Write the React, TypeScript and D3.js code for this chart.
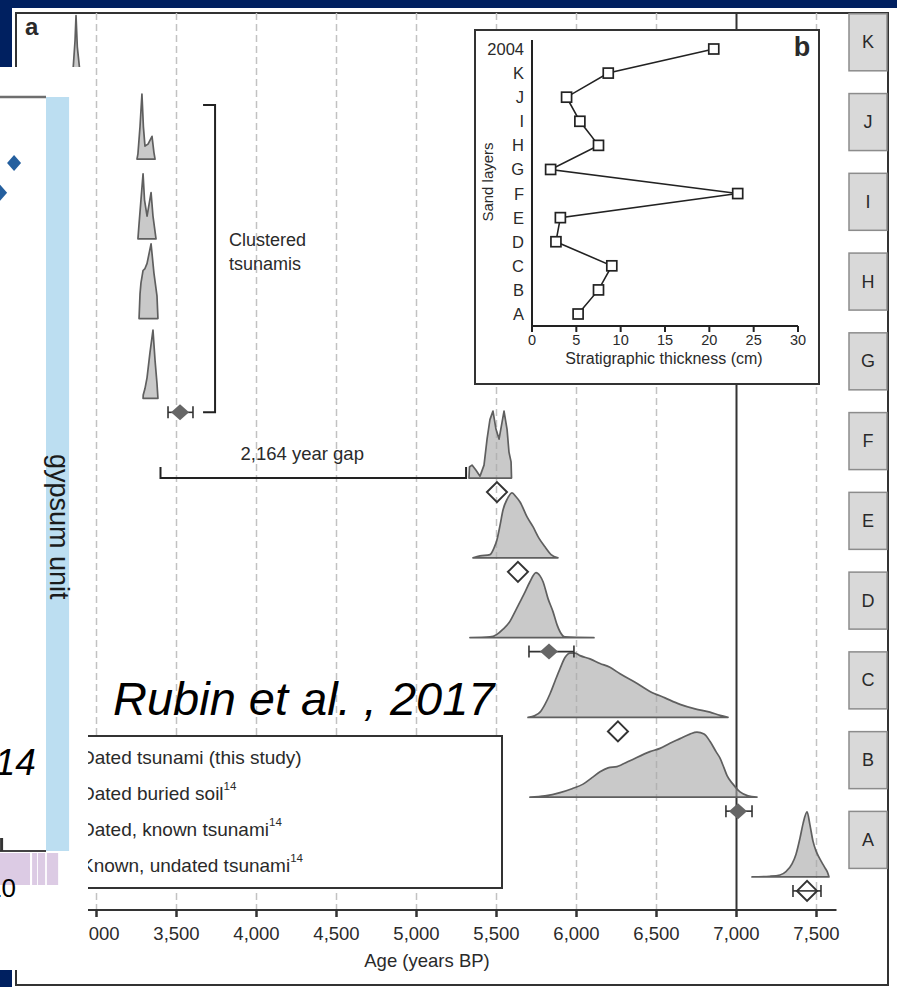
import React from 'react';
import * as d3 from 'd3';

// ---------------- data ----------------
const layers = ['K', 'J', 'I', 'H', 'G', 'F', 'E', 'D', 'C', 'B', 'A'];
const ageTicks = [3000, 3500, 4000, 4500, 5000, 5500, 6000, 6500, 7000, 7500];
const referenceAge = 7000;

// probability densities [age BP, relative density]
const densityK = [[2840, 0], [2855, 0.2], [2866, 0.6], [2872, 0.98], [2880, 0.5], [2895, 0.15], [2910, 0]];
const densityJ = [[3253, 0], [3259, 0.08], [3272, 0.5], [3284, 1.0], [3293, 0.5], [3303, 0.2], [3322, 0.23], [3347, 0.35], [3359, 0.1], [3366, 0]];
const densityI = [[3259, 0], [3265, 0.2], [3278, 0.6], [3291, 1.0], [3300, 0.6], [3316, 0.35], [3341, 0.71], [3353, 0.35], [3372, 0]];
const densityH = [[3266, 0], [3272, 0.38], [3278, 0.55], [3291, 0.74], [3303, 0.77], [3316, 0.85], [3341, 1.15], [3359, 0.7], [3378, 0.35], [3384, 0]];
const densityG = [[3291, 0], [3292, 0.05], [3303, 0.15], [3316, 0.32], [3334, 0.7], [3353, 1.05], [3366, 0.58], [3378, 0.23], [3384, 0]];
const densityF = [[5328, 0], [5331, 0.17], [5347, 0.2], [5372, 0.12], [5397, 0.03], [5422, 0.2], [5441, 0.6], [5459, 0.9], [5478, 1.03], [5497, 0.75], [5516, 0.6], [5534, 0.85], [5547, 1.03], [5566, 0.75], [5578, 0.4], [5591, 0.25], [5594, 0]];
const densityE = [[5353, 0], [5397, 0.03], [5459, 0.05], [5484, 0.15], [5503, 0.28], [5522, 0.5], [5541, 0.74], [5566, 0.9], [5597, 1.0], [5622, 0.94], [5647, 0.86], [5691, 0.63], [5728, 0.48], [5766, 0.3], [5803, 0.17], [5841, 0.05], [5884, 0]];
const densityD = [[5334, 0], [5459, 0.01], [5503, 0.05], [5541, 0.13], [5584, 0.25], [5616, 0.4], [5647, 0.55], [5678, 0.7], [5709, 0.86], [5747, 1.0], [5772, 0.95], [5791, 0.86], [5822, 0.6], [5853, 0.4], [5878, 0.2], [5897, 0.09], [5928, 0.01], [6109, 0]];
const densityC = [[5697, 0], [5741, 0.03], [5772, 0.08], [5803, 0.2], [5834, 0.36], [5866, 0.56], [5897, 0.75], [5928, 0.92], [5959, 0.99], [5991, 0.99], [6022, 0.95], [6084, 0.9], [6147, 0.83], [6209, 0.77], [6272, 0.67], [6366, 0.54], [6459, 0.4], [6553, 0.3], [6647, 0.2], [6741, 0.13], [6834, 0.08], [6897, 0.03], [6947, 0]];
const densityB = [[5709, 0], [5803, 0.02], [5897, 0.07], [5972, 0.13], [6041, 0.2], [6097, 0.3], [6147, 0.39], [6197, 0.45], [6253, 0.47], [6334, 0.56], [6459, 0.7], [6522, 0.75], [6584, 0.83], [6647, 0.9], [6709, 0.97], [6753, 1.0], [6797, 0.97], [6834, 0.86], [6872, 0.7], [6897, 0.6], [6922, 0.45], [6941, 0.33], [6978, 0.2], [7022, 0.08], [7072, 0.02], [7128, 0]];
const densityA = [[7097, 0], [7209, 0.01], [7272, 0.03], [7309, 0.08], [7347, 0.2], [7372, 0.35], [7397, 0.6], [7416, 0.82], [7441, 1.0], [7459, 0.8], [7478, 0.55], [7497, 0.4], [7516, 0.3], [7534, 0.22], [7553, 0.14], [7572, 0.05], [7578, 0]];
const densities: Record<string, number[][]> = {
  K: densityK, J: densityJ, I: densityI, H: densityH, G: densityG, F: densityF,
  E: densityE, D: densityD, C: densityC, B: densityB, A: densityA,
};
const smoothLayers = ['E', 'D', 'C', 'B', 'A'];

// age markers under the distributions
const dateLayers = ['G', 'F', 'E', 'D', 'C', 'B', 'A'];
const dateAges = [3522, 5503, 5634, 5828, 6259, 7009, 7441];
const dateKinds = ['filled', 'open', 'open', 'filled', 'open', 'filled', 'open'];
const dateLow = [3447, NaN, NaN, 5703, NaN, 6934, 7353];
const dateHigh = [3603, NaN, NaN, 5984, NaN, 7097, 7528];

const clusterLayers = ['J', 'G'];
const clusterBracketAge = 3741;
const clusterLabel = ['Clustered', 'tsunamis'];
const gapRange = [3400, 5310];
const gapLabel = '2,164 year gap';

const legendLabels = ['Dated tsunami (this study)', 'Dated buried soil', 'Dated, known tsunami', 'Known, undated tsunami'];
const legendRefs = ['', '14', '14', '14'];

// inset b
const sandLayers = ['2004', 'K', 'J', 'I', 'H', 'G', 'F', 'E', 'D', 'C', 'B', 'A'];
const thickness = [20.5, 8.6, 3.9, 5.4, 7.5, 2.1, 23.2, 3.2, 2.7, 9.0, 7.5, 5.2];
const thicknessTicks = [0, 5, 10, 15, 20, 25, 30];

// overlapping slide fragment (normalized units of the cropped chart)
const overlayDiamondsX = [0.892, 0.845];
const overlayDiamondsY = [0.0875, 0.127];
const overlayBarsStart = [0.8, 0.953, 0.973, 1.003];
const overlayBarsEnd = [0.946, 0.97, 0.997, 1.041];
const overlayBand = [1.0, 1.078];
const overlayTick = 0.85;
const overlayTickLabel = '10';
const overlayBandLabel = 'gypsum unit';
const overlayCitation = '2014';
const citation = 'Rubin et al. , 2017';

const FONT = '"Liberation Sans", Arial, Helvetica, sans-serif';
const TXT = '#2a2a2a';

const diamond = (cx: number, cy: number, w: number, h: number) =>
  `M${cx},${cy - h}L${cx + w},${cy}L${cx},${cy + h}L${cx - w},${cy}Z`;

export default function App() {
  const x = d3.scaleLinear().domain([3000, 7500]).range([96.5, 816.5]);
  const axisY = 910;
  const gridTop = 13;
  const rows = d3.scaleBand().domain(layers).range([2, 2 + 79.76 * layers.length]);
  const baseline = (l: string) => (rows(l) as number) + 77.3;
  const markerY = (l: string) => baseline(l) + 14;
  const dens = d3.scaleLinear().domain([0, 1]).range([0, 65]);
  const fmt = d3.format(',');

  const areaFor = (l: string) =>
    d3.area<number[]>()
      .x((d) => x(d[0]))
      .y0(baseline(l))
      .y1((d) => baseline(l) - dens(d[1]))
      .curve(smoothLayers.includes(l) ? d3.curveMonotoneX : d3.curveLinear)(densities[l]) as string;

  // inset scales
  const ix = d3.scaleLinear().domain([0, 30]).range([532, 798]);
  const iy = d3.scalePoint<string>().domain(sandLayers).range([49, 314]);
  const iAxisY = 326;
  const thickLine = d3.line<number>()
    .x((d) => ix(d))
    .y((_, i) => iy(sandLayers[i]) as number)(thickness) as string;

  // overlay scales
  const ovX = d3.scaleLinear().domain([0, 1]).range([-250, 46]);
  const ovY = d3.scaleLinear().domain([0, 1]).range([97, 851]);

  const clusterTop = baseline(clusterLayers[0]) - 54;
  const clusterBottom = markerY(clusterLayers[1]);
  const bx = x(clusterBracketAge);
  const gapY = baseline('F');

  return (
    <svg width={897} height={987} style={{ position: 'absolute', left: 0, top: 0, display: 'block' }} fontFamily={FONT}>
      <rect width={897} height={987} fill="#002060" />
      <rect x={12} y={8} width={885} height={979} fill="#fff" />
      <rect x={16} y={13} width={872} height={972} fill="none" stroke="#333" strokeWidth={2} />

      {/* dashed grid */}
      {ageTicks.filter((t) => t !== referenceAge).map((t) => (
        <line key={t} x1={x(t)} x2={x(t)} y1={gridTop} y2={axisY} stroke="#c2c2c2" strokeWidth={1.5} strokeDasharray="7,4" />
      ))}
      <line x1={x(referenceAge)} x2={x(referenceAge)} y1={gridTop} y2={axisY} stroke="#333" strokeWidth={2} />

      {/* x axis */}
      <line x1={x(2500)} x2={x(7625)} y1={axisY} y2={axisY} stroke="#333" strokeWidth={2} />
      {ageTicks.map((t) => (
        <g key={t}>
          <line x1={x(t)} x2={x(t)} y1={axisY} y2={axisY + 7} stroke="#333" strokeWidth={2.5} />
          <text x={x(t)} y={933} textAnchor="middle" dominantBaseline="central" fontSize={18.5} fill={TXT}>{fmt(t)}</text>
        </g>
      ))}
      <text x={427} y={960} textAnchor="middle" dominantBaseline="central" fontSize={18.5} fill={TXT}>Age (years BP)</text>

      {/* layer boxes */}
      {layers.map((l) => {
        const cy = baseline(l) - 37;
        return (
          <g key={l}>
            <rect x={849} y={cy - 28.5} width={38} height={57} fill="#d9d9d9" stroke="#8c8c8c" strokeWidth={1.5} />
            <text x={868} y={cy} textAnchor="middle" dominantBaseline="central" fontSize={18} fill={TXT}>{l}</text>
          </g>
        );
      })}

      {/* distributions */}
      {layers.map((l) => (
        <path key={l} d={areaFor(l)} fill="#a8a8a8" fillOpacity={0.62} stroke="#5f5f5f" strokeWidth={1.7} strokeLinejoin="round" />
      ))}

      {/* date markers */}
      {dateLayers.map((l, i) => {
        const cx = x(dateAges[i]);
        const cy = markerY(l);
        const hasErr = !isNaN(dateLow[i]);
        return (
          <g key={l}>
            {hasErr && (
              <g stroke="#333" strokeWidth={1.6}>
                <line x1={x(dateLow[i])} x2={x(dateHigh[i])} y1={cy} y2={cy} />
                <line x1={x(dateLow[i])} x2={x(dateLow[i])} y1={cy - 6} y2={cy + 6} />
                <line x1={x(dateHigh[i])} x2={x(dateHigh[i])} y1={cy - 6} y2={cy + 6} />
              </g>
            )}
            {dateKinds[i] === 'filled' ? (
              <path d={diamond(cx, cy, 9, 8)} fill="#666" />
            ) : (
              <path d={diamond(cx, cy, 10, 10)} fill="none" stroke="#333" strokeWidth={2} />
            )}
          </g>
        );
      })}

      {/* clustered bracket */}
      <path d={`M${bx - 12},${clusterTop}H${bx}V${clusterBottom}H${bx - 12}`} fill="none" stroke="#222" strokeWidth={2} />
      {clusterLabel.map((s, i) => (
        <text key={s} x={bx + 14} y={(clusterTop + clusterBottom) / 2 - 19 + i * 24} dominantBaseline="central" fontSize={18} fill={TXT}>{s}</text>
      ))}

      {/* gap bracket */}
      <path d={`M${x(gapRange[0])},${gapY - 11}V${gapY}H${x(gapRange[1])}V${gapY - 11}`} fill="none" stroke="#222" strokeWidth={2} />
      <text x={x(gapRange[0]) + 80} y={gapY - 25} dominantBaseline="central" fontSize={18.5} fill={TXT}>{gapLabel}</text>

      {/* citation */}
      <text x={113} y={715} fontSize={47} fontStyle="italic" fill="#000">{citation}</text>

      {/* legend */}
      <rect x={20} y={736} width={482} height={152} fill="#fff" stroke="#333" strokeWidth={2} />
      {legendLabels.map((s, i) => (
        <text key={s} x={81} y={757 + i * 36} dominantBaseline="central" fontSize={19} fill={TXT}>
          {s}
          {legendRefs[i] && <tspan fontSize={11.5} dy={-7}>{legendRefs[i]}</tspan>}
        </text>
      ))}

      {/* inset b */}
      <rect x={475} y={30} width={344} height={354} fill="#fff" stroke="#333" strokeWidth={2} />
      <line x1={ix(0)} x2={ix(0)} y1={40} y2={iAxisY} stroke="#222" strokeWidth={2} />
      <line x1={ix(0)} x2={ix(30)} y1={iAxisY} y2={iAxisY} stroke="#222" strokeWidth={2} />
      {thicknessTicks.map((t) => (
        <g key={t}>
          <line x1={ix(t)} x2={ix(t)} y1={iAxisY} y2={iAxisY + 6} stroke="#222" strokeWidth={2} />
          <text x={ix(t)} y={340} textAnchor="middle" dominantBaseline="central" fontSize={14.5} fill={TXT}>{t}</text>
        </g>
      ))}
      <text x={664} y={358} textAnchor="middle" dominantBaseline="central" fontSize={16} fill={TXT}>Stratigraphic thickness (cm)</text>
      {sandLayers.map((l) => (
        <text key={l} x={524} y={iy(l)} textAnchor="end" dominantBaseline="central" fontSize={16.5} fill={TXT}>{l}</text>
      ))}
      <text transform="translate(487,182) rotate(-90)" textAnchor="middle" dominantBaseline="central" fontSize={15} fill={TXT}>Sand layers</text>
      <path d={thickLine} fill="none" stroke="#222" strokeWidth={1.6} />
      {thickness.map((v, i) => (
        <rect key={i} x={ix(v) - 5} y={(iy(sandLayers[i]) as number) - 5} width={10} height={10} fill="#fff" stroke="#222" strokeWidth={1.7} />
      ))}
      <text x={802} y={47} textAnchor="middle" dominantBaseline="central" fontSize={27} fontWeight="bold" fill={TXT}>b</text>

      {/* panel a label */}
      <text x={25} y={35} fontSize={24} fontWeight="bold" fill={TXT}>a</text>

      {/* overlapping slide fragment */}
      <rect x={0} y={67} width={88} height={903} fill="#fff" />
      <rect x={ovX(overlayBand[0])} y={ovY(0)} width={ovX(overlayBand[1]) - ovX(overlayBand[0])} height={ovY(1) - ovY(0)} fill="#bcdef1" />
      <line x1={ovX(0.8)} x2={ovX(1)} y1={ovY(0)} y2={ovY(0)} stroke="#6e6e6e" strokeWidth={2.5} />
      {overlayDiamondsX.map((v, i) => (
        <path key={i} d={diamond(ovX(v), ovY(overlayDiamondsY[i]), 7, 8)} fill="#245f9e" />
      ))}
      <text transform={`translate(${(ovX(overlayBand[0]) + ovX(overlayBand[1])) / 2 + 1},${ovY(0.57)}) rotate(90)`} textAnchor="middle" dominantBaseline="central" fontSize={27} fill="#1b1b1b">{overlayBandLabel}</text>
      <text x={ovX(0.966)} y={ovY(0.899)} textAnchor="end" fontSize={37} fontStyle="italic" fill="#000">{overlayCitation}</text>
      {overlayBarsStart.map((v, i) => (
        <rect key={i} x={ovX(v)} y={ovY(1) + 2} width={ovX(overlayBarsEnd[i]) - ovX(v)} height={32} fill="#dccbe4" />
      ))}
      <line x1={ovX(0.8)} x2={ovX(1)} y1={ovY(1)} y2={ovY(1)} stroke="#444" strokeWidth={2} />
      <line x1={ovX(overlayTick)} x2={ovX(overlayTick)} y1={ovY(1) - 13} y2={ovY(1)} stroke="#333" strokeWidth={3} />
      <text x={ovX(overlayTick)} y={897} textAnchor="middle" fontSize={26} fill="#000">{overlayTickLabel}</text>
    </svg>
  );
}
